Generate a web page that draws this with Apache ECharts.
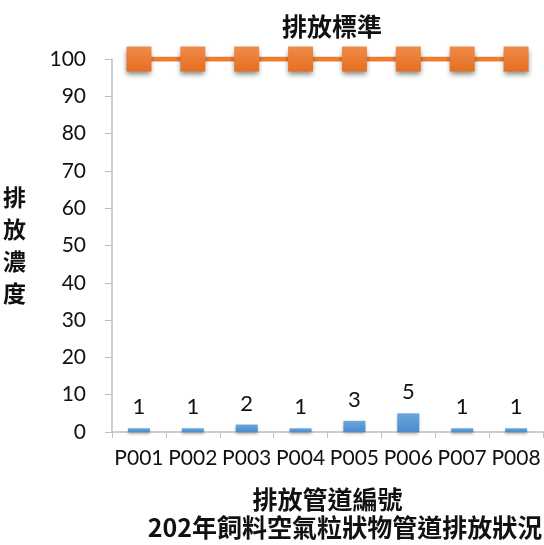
<!DOCTYPE html>
<html><head><meta charset="utf-8">
<script src="https://cdn.jsdelivr.net/npm/echarts@6/dist/echarts.min.js"></script>
<style>html,body{margin:0;padding:0;background:#fff}#c{width:544px;height:545px}</style>
</head><body><div id="c"></div>
<script>
const categories = ['P001','P002','P003','P004','P005','P006','P007','P008'];
const emissionValues = [1,1,2,1,3,5,1,1];
const standardValues = [100,100,100,100,100,100,100,100];
const yTicks = [0,10,20,30,40,50,60,70,80,90,100];

const cjk = '"Noto Sans CJK TC"';
const num = 'Lato';
const chart = echarts.init(document.getElementById('c'));
chart.setOption({
  animation:false,
  title:[
    {text:'排放標準', left:327, textAlign:'center', top:9,
     textStyle:{fontFamily:cjk, fontSize:25, fontWeight:'bold', color:'#111'}},
    {text:'202年飼料空氣粒狀物管道排放狀況', left:340, textAlign:'center', top:510,
     textStyle:{fontFamily:cjk, fontSize:25, fontWeight:'bold', color:'#111'}}
  ],
  grid:{left:109, right:1, top:59, bottom:113, containLabel:false},
  xAxis:{type:'category', data:categories, boundaryGap:true,
    axisLine:{lineStyle:{color:'#bfbfbf', width:1.5}},
    axisTick:{show:true, inside:false, length:6, lineStyle:{color:'#bfbfbf'}},
    axisLabel:{margin:16, fontFamily:num, fontSize:21, color:'#111', interval:0},
    name:'排放管道編號', nameLocation:'middle', nameGap:55,
    nameTextStyle:{fontFamily:cjk, fontSize:25, fontWeight:'bold', color:'#111'}
  },
  yAxis:{type:'value', min:yTicks[0], max:yTicks[yTicks.length-1], interval:10,
    axisLine:{show:true, lineStyle:{color:'#bfbfbf', width:1.5}},
    axisTick:{show:true, length:7, lineStyle:{color:'#bfbfbf'}},
    splitLine:{show:false},
    axisLabel:{margin:26, fontFamily:num, fontSize:21, color:'#111'},
    name:'排\n放\n濃\n度', nameLocation:'middle', nameRotate:0, nameGap:86,
    nameTextStyle:{fontFamily:cjk, fontSize:23, fontWeight:'bold', color:'#111', lineHeight:32}
  },
  series:[
    {type:'bar', data:emissionValues, barWidth:22,
     itemStyle:{color:new echarts.graphic.LinearGradient(0,0,0,1,[{offset:0,color:'#6aa6dc'},{offset:1,color:'#4a8ccc'}]),
       shadowColor:'rgba(0,0,0,0.3)', shadowBlur:3, shadowOffsetY:2},
     label:{show:true, position:'top', distance:10, fontFamily:num, fontSize:22, color:'#111'}
    },
    {type:'line', data:standardValues, symbol:'rect', symbolSize:25, z:5,
     lineStyle:{color:'#ED7D31', width:5},
     itemStyle:{color:new echarts.graphic.LinearGradient(0,0,0,1,[{offset:0,color:'#f08b4a'},{offset:1,color:'#e56f1f'}]),
       shadowColor:'rgba(0,0,0,0.45)', shadowBlur:5, shadowOffsetY:3}
    }
  ]
});
</script></body></html>
